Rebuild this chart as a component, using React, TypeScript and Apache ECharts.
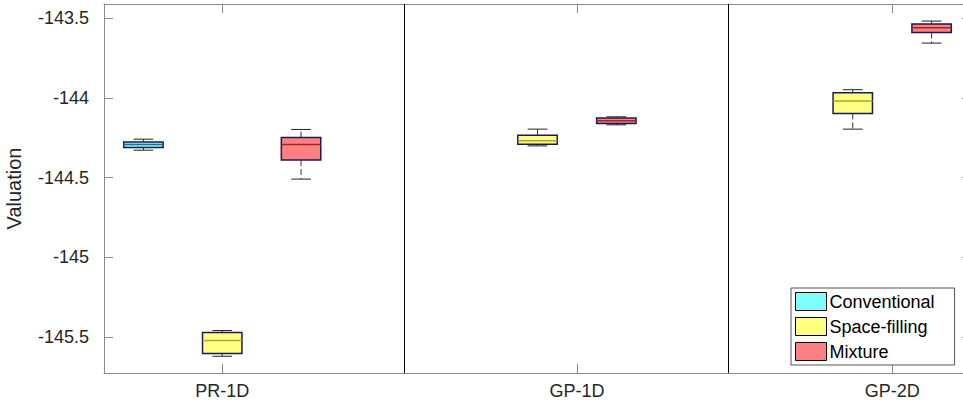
import React, { useEffect, useRef } from "react";
import * as echarts from "echarts";

// Group tick labels and their positions on the x scale
const groupLabels = ["PR-1D", "GP-1D", "GP-2D"];
const groupTickPos = [2, 6.5, 10.5];
const separatorPos = [4.31, 8.42];
const yTicks = [-145.5, -145, -144.5, -144, -143.5];

// Box data: [lower whisker, Q1, median, Q3, upper whisker]
const conventionalPos = [1];
const conventional = [[-144.328, -144.311, -144.293, -144.276, -144.259]];

const spaceFillingPos = [2, 6, 10];
const spaceFilling = [
  [-145.619, -145.602, -145.521, -145.471, -145.458],
  [-144.301, -144.29, -144.269, -144.234, -144.196],
  [-144.196, -144.098, -144.02, -143.968, -143.949],
];

const mixturePos = [3, 7, 11];
const mixture = [
  [-144.509, -144.39, -144.292, -144.248, -144.198],
  [-144.169, -144.16, -144.144, -144.127, -144.119],
  [-143.657, -143.59, -143.561, -143.538, -143.519],
];

const FONT = "Liberation Sans, Arial, sans-serif";

function boxSeries(name: string, pos: number[], vals: number[][], fill: string, median: string) {
  return {
    type: "custom",
    name,
    itemStyle: { color: fill, borderColor: "#000", borderWidth: 1 },
    data: pos.map((p, i) => [p, ...vals[i]]),
    encode: { x: 0, y: [1, 2, 3, 4, 5] },
    renderItem: (params: any, api: any) => {
      const x = api.value(0);
      const lo = api.coord([x, api.value(1)]);
      const q1 = api.coord([x, api.value(2)]);
      const md = api.coord([x, api.value(3)]);
      const q3 = api.coord([x, api.value(4)]);
      const hi = api.coord([x, api.value(5)]);
      const bw = api.size([0.5, 0])[0];
      const cw = api.size([0.25, 0])[0];
      const cx = lo[0];
      return {
        type: "group",
        children: [
          { type: "line", shape: { x1: cx, y1: q3[1], x2: cx, y2: hi[1] }, style: { stroke: "#333", lineWidth: 1, lineDash: [6, 3] } },
          { type: "line", shape: { x1: cx, y1: q1[1], x2: cx, y2: lo[1] }, style: { stroke: "#333", lineWidth: 1, lineDash: [6, 3] } },
          { type: "line", shape: { x1: cx - cw / 2, y1: hi[1], x2: cx + cw / 2, y2: hi[1] }, style: { stroke: "#222", lineWidth: 1 } },
          { type: "line", shape: { x1: cx - cw / 2, y1: lo[1], x2: cx + cw / 2, y2: lo[1] }, style: { stroke: "#222", lineWidth: 1 } },
          { type: "rect", shape: { x: cx - bw / 2, y: q3[1], width: bw, height: q1[1] - q3[1] }, style: { fill, stroke: "#1a1a55", lineWidth: 1.5 } },
          { type: "line", shape: { x1: cx - bw / 2, y1: md[1], x2: cx + bw / 2, y2: md[1] }, style: { stroke: median, lineWidth: 1.5 } },
        ],
      };
    },
  };
}

export default function App() {
  const ref = useRef<HTMLDivElement>(null);
  useEffect(() => {
    if (!ref.current) return;
    const chart = echarts.init(ref.current, null, { renderer: "svg" });
    const axisCol = "#8a8a8a";
    chart.setOption({
      animation: false,
      backgroundColor: "#fff",
      textStyle: { fontFamily: FONT },
      grid: { left: 104, top: 4, width: 867, height: 369, containLabel: false, outerBoundsMode: "none" },
      xAxis: [
        {
          type: "value",
          position: "bottom",
          min: 0.5,
          max: 11.5,
          splitLine: { show: false },
          axisLine: { show: true, lineStyle: { color: axisCol, width: 1 } },
          axisTick: { show: true, inside: true, length: 9, customValues: groupTickPos, lineStyle: { color: axisCol } },
          axisLabel: {
            show: true,
            customValues: groupTickPos,
            margin: 9,
            fontSize: 18,
            color: "#262626",
            fontFamily: FONT,
            formatter: (v: number) => groupLabels[groupTickPos.indexOf(v)] ?? "",
          },
        },
        {
          type: "value",
          position: "top",
          min: 0.5,
          max: 11.5,
          splitLine: { show: false },
          axisLine: { show: true, lineStyle: { color: axisCol, width: 1 } },
          axisTick: { show: true, inside: true, length: 9, customValues: groupTickPos, lineStyle: { color: axisCol } },
          axisLabel: { show: false },
        },
      ],
      yAxis: [
        {
          type: "value",
          position: "left",
          min: -145.724,
          max: -143.412,
          name: "Valuation",
          nameLocation: "middle",
          nameGap: 80,
          nameTextStyle: { fontSize: 20, color: "#262626", fontFamily: FONT },
          splitLine: { show: false },
          axisLine: { show: true, lineStyle: { color: axisCol, width: 1 } },
          axisTick: { show: true, inside: true, length: 9, customValues: yTicks, lineStyle: { color: axisCol } },
          axisLabel: {
            show: true,
            customValues: yTicks,
            margin: 15,
            fontSize: 18,
            color: "#262626",
            fontFamily: FONT,
            formatter: (v: number) => String(v),
          },
        },
        {
          type: "value",
          position: "right",
          min: -145.724,
          max: -143.412,
          splitLine: { show: false },
          axisLine: { show: true, lineStyle: { color: axisCol, width: 1 } },
          axisTick: { show: true, inside: true, length: 9, customValues: yTicks, lineStyle: { color: axisCol } },
          axisLabel: { show: false },
        },
      ],
      legend: {
        show: true,
        orient: "vertical",
        left: 791,
        top: 288,
        padding: [4, 20, 4, 4],
        itemGap: 6,
        itemWidth: 31,
        itemHeight: 18,
        icon: "rect",
        backgroundColor: "#fff",
        borderColor: "#555",
        borderWidth: 1,
        borderRadius: 0,
        textStyle: { fontSize: 18, color: "#000", fontFamily: FONT, padding: [0, 0, 0, -2] },
        itemStyle: { borderColor: "#000", borderWidth: 1 },
        data: ["Conventional", "Space-filling", "Mixture"],
      },
      series: [
        {
          type: "line",
          data: [],
          silent: true,
          markLine: {
            silent: true,
            symbol: "none",
            label: { show: false },
            lineStyle: { color: "#000", width: 1, type: "solid" },
            data: separatorPos.map((x) => ({ xAxis: x })),
          },
        },
        boxSeries("Conventional", conventionalPos, conventional, "#80ffff", "#2a6a8a"),
        boxSeries("Space-filling", spaceFillingPos, spaceFilling, "#ffff80", "#b0a040"),
        boxSeries("Mixture", mixturePos, mixture, "#ff8080", "#a02828"),
      ],
    });
    return () => chart.dispose();
  }, []);
  return (
    <div
      ref={ref}
      style={{ position: "absolute", left: 0, top: 0, width: 963, height: 402 }}
    />
  );
}
